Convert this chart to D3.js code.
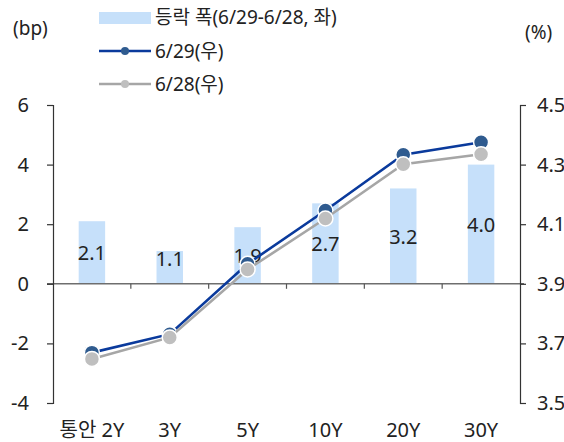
<!DOCTYPE html>
<html>
<head>
<meta charset="utf-8">
<script src="https://cdn.jsdelivr.net/npm/d3@7"></script>
<style>
  body { margin: 0; background: #fff; }
  svg text { font-family: "Noto Sans", "Noto Sans CJK KR", sans-serif; fill: #222; }
</style>
</head>
<body>
<div id="chart"></div>
<script>
// categories and values
const categories = ["통안 2Y", "3Y", "5Y", "10Y", "20Y", "30Y"];
const change = [2.1, 1.1, 1.9, 2.7, 3.2, 4.0];          // bp, left axis
const y0629 = [3.669, 3.731, 3.967, 4.146, 4.333, 4.375]; // %, right axis
const y0628 = [3.648, 3.720, 3.948, 4.119, 4.301, 4.335];
const leftTicks = [-4, -2, 0, 2, 4, 6];
const rightTicks = [3.5, 3.7, 3.9, 4.1, 4.3, 4.5];

const width = 564, height = 442;
const plotLeft = 53, plotRight = 520, plotTop = 105, plotBottom = 403;

const svg = d3.select("#chart").append("svg")
  .attr("width", width)
  .attr("height", height);

const x = d3.scaleBand().domain(categories).range([plotLeft, plotRight]).padding(0);
const yL = d3.scaleLinear().domain([-4, 6]).range([plotBottom, plotTop]);
const yR = d3.scaleLinear().domain([3.5, 4.5]).range([plotBottom, plotTop]);

const barW = x.bandwidth() * 0.34;

// bars
svg.append("g").selectAll("rect")
  .data(change).enter()
  .append("rect")
  .attr("x", (d, i) => x(categories[i]) + x.bandwidth() / 2 - barW / 2)
  .attr("y", d => yL(d))
  .attr("width", barW)
  .attr("height", d => yL(0) - yL(d))
  .attr("fill", "#c6e0fa");

// zero line + category ticks
svg.append("line")
  .attr("x1", plotLeft - 6).attr("x2", plotRight + 4)
  .attr("y1", yL(0)).attr("y2", yL(0))
  .attr("stroke", "#6e6e6e").attr("stroke-width", 1.5);

svg.append("g").selectAll("line")
  .data(categories.slice(1)).enter()
  .append("line")
  .attr("x1", d => x(d)).attr("x2", d => x(d))
  .attr("y1", yL(0)).attr("y2", yL(0) + 5)
  .attr("stroke", "#555").attr("stroke-width", 1.2);

// bar labels
svg.append("g").selectAll("text")
  .data(change).enter()
  .append("text")
  .attr("x", (d, i) => x(categories[i]) + x.bandwidth() / 2)
  .attr("y", d => Math.min((yL(d) + yL(0)) / 2, yL(0) - 25))
  .attr("text-anchor", "middle")
  .attr("dominant-baseline", "central")
  .style("font-size", "20px")
  .text(d => d.toFixed(1));

// lines
const cx = i => x(categories[i]) + x.bandwidth() / 2;
function drawSeries(vals, lineColor, dotColor) {
  const line = d3.line().x((d, i) => cx(i)).y(d => yR(d));
  svg.append("path")
    .attr("d", line(vals))
    .attr("fill", "none")
    .attr("stroke", lineColor)
    .attr("stroke-width", 2.6);
  svg.append("g").selectAll("circle")
    .data(vals).enter()
    .append("circle")
    .attr("cx", (d, i) => cx(i))
    .attr("cy", d => yR(d))
    .attr("r", 7.5)
    .attr("fill", dotColor)
    .attr("stroke", "#fff")
    .attr("stroke-width", 1.5);
}
drawSeries(y0629, "#0a3a9c", "#2f5b8f");
drawSeries(y0628, "#a6a6a6", "#bfbfbf");

// axes
const leftAxis = svg.append("g")
  .attr("transform", `translate(${plotLeft},0)`)
  .call(d3.axisLeft(yL).tickValues(leftTicks).tickFormat(d => String(d)).tickSize(6).tickPadding(18));
const rightAxis = svg.append("g")
  .attr("transform", `translate(${plotRight},0)`)
  .call(d3.axisRight(yR).tickValues(rightTicks).tickFormat(d => d.toFixed(1)).tickSize(6).tickPadding(11));

[leftAxis, rightAxis].forEach(a => {
  a.selectAll("path, line").attr("stroke", "#333").attr("stroke-width", 1.2);
  a.selectAll("text").style("font-size", "20px").attr("fill", "#222");
});

// category labels
svg.append("g").selectAll("text")
  .data(categories).enter()
  .append("text")
  .attr("x", d => x(d) + x.bandwidth() / 2)
  .attr("y", 429)
  .attr("text-anchor", "middle")
  .attr("dominant-baseline", "central")
  .style("font-size", "20px")
  .text(d => d);

// unit labels
svg.append("text").attr("x", 13).attr("y", 28)
  .attr("dominant-baseline", "central").style("font-size", "19px").text("(bp)");
svg.append("text").attr("x", 525).attr("y", 32)
  .attr("dominant-baseline", "central").style("font-size", "19px").text("(%)");

// legend
const lg = svg.append("g");
lg.append("rect").attr("x", 99).attr("y", 12).attr("width", 52).attr("height", 12).attr("fill", "#c6e0fa");
lg.append("text").attr("x", 155).attr("y", 17).attr("dominant-baseline", "central")
  .style("font-size", "19px").text("등락 폭(6/29-6/28, 좌)");

const legendLines = [
  { label: "6/29(우)", line: "#0a3a9c", dot: "#2f5b8f", y: 51 },
  { label: "6/28(우)", line: "#a6a6a6", dot: "#bfbfbf", y: 84 }
];
legendLines.forEach(l => {
  lg.append("line").attr("x1", 99).attr("x2", 151).attr("y1", l.y).attr("y2", l.y)
    .attr("stroke", l.line).attr("stroke-width", 2.6);
  lg.append("circle").attr("cx", 125).attr("cy", l.y).attr("r", 4).attr("fill", l.dot);
  lg.append("text").attr("x", 155).attr("y", l.y).attr("dominant-baseline", "central")
    .style("font-size", "19px").text(l.label);
});
</script>
</body>
</html>
